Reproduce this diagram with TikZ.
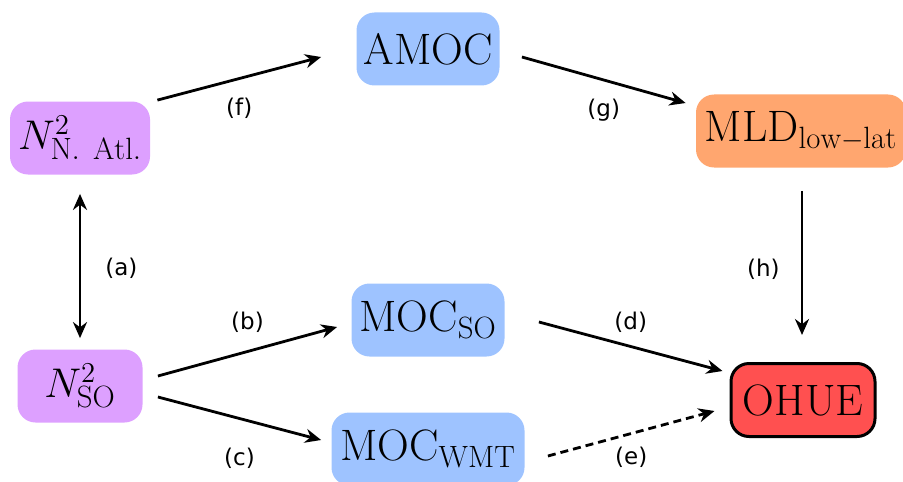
\documentclass[tikz,border=0pt]{standalone}
\usepackage{fontspec}
\newfontfamily\lblfont{DejaVu Sans}
\usetikzlibrary{arrows.meta,positioning}
\definecolor{cpurple}{RGB}{221,160,255}
\definecolor{cblue}{RGB}{158,195,255}
\definecolor{corange}{RGB}{255,166,111}
\definecolor{cred}{RGB}{255,80,80}

\begin{document}
\begin{tikzpicture}[x=0.5pt, y=-0.5pt, line width=1.4pt, >={Stealth[length=8pt,width=7pt]},
    box/.style={rounded corners=9pt, minimum height=36.5pt, inner xsep=1pt, font=\fontsize{22}{26}\selectfont},
    lbl/.style={inner sep=0pt, font=\lblfont\fontsize{11.5}{13}\selectfont}]
    \useasboundingbox (0,0) rectangle (903,481);

    \node [box, fill=cpurple, minimum width=70pt] (natl) at (80,138) {$N^2_{\mathrm{N.\ Atl.}}$};
    \node [box, fill=cpurple, minimum width=62.5pt] (nso) at (80,386) {$N^2_{\mathrm{SO}}$};
    \node [box, fill=cblue, minimum width=71.5pt] (amoc) at (428,49) {AMOC};
    \node [box, fill=cblue, minimum width=76.5pt] (mocso) at (428,320) {MOC$_{\mathrm{SO}}$};
    \node [box, fill=cblue, minimum width=96.5pt] (mocwmt) at (428,449) {MOC$_{\mathrm{WMT}}$};
    \node [box, fill=corange, minimum width=105pt] (mld) at (801,131) {MLD$_{\mathrm{low-lat}}$};
    \node [box, fill=cred, draw=black, line width=1.5pt, minimum width=72pt] (ohue) at (803,400) {OHUE};

    \path[->]
        ([shift={(0,18)}]natl.south) edge[<->] node[lbl, right=12pt, yshift=-1pt] {(a)} ([shift={(0,-10)}]nso.north)
        ([shift={(14,-10)}]nso.east) edge node[lbl, above=9pt] {(b)} ([shift={(-13,7)}]mocso.west)
        ([shift={(14,11)}]nso.east) edge node[lbl, below=14pt] {(c)} ([shift={(-9,-9)}]mocwmt.west)
        ([shift={(33,2)}]mocso.east) edge node[lbl, above=6.5pt] {(d)} ([shift={(-7,-29)}]ohue.west)
        ([shift={(22,7)}]mocwmt.east) edge[dash pattern=on 4pt off 2.5pt] node[lbl, below=6pt] {(e)} ([shift={(-15,11)}]ohue.west)
        ([shift={(6,0)}]natl.north east) edge node[lbl, below=9pt] {(f)} ([shift={(-34,8)}]amoc.west)
        ([shift={(21,8)}]amoc.east) edge node[lbl, below=9pt] {(g)} ([shift={(-9,-28)}]mld.west)
        ([shift={(1,22)}]mld.south) edge node[lbl, left=10.5pt, yshift=-3pt] {(h)} ([shift={(-1,-27)}]ohue.north);
\end{tikzpicture}
\end{document}
